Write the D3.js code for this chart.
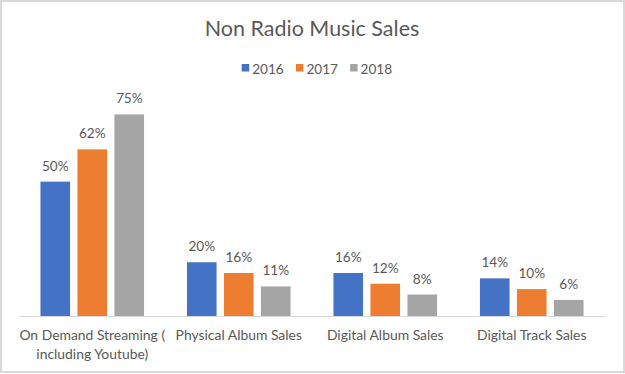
<!DOCTYPE html>
<html>
<head>
<meta charset="utf-8">
<script src="https://cdn.jsdelivr.net/npm/d3@7"></script>
<style>
  html, body { margin: 0; padding: 0; background: #fff; }
  svg { display: block; }
  text { font-family: Lato, 'Open Sans', sans-serif; fill: #595959; }
</style>
</head>
<body>
<script>
const categories = [
  ['On Demand Streaming (', 'including Youtube)'],
  ['Physical Album Sales'],
  ['Digital Album Sales'],
  ['Digital Track Sales'],
]
const years = ['2016', '2017', '2018']
const colors = ['#4472C4', '#ED7D31', '#A5A5A5']
const sales2016 = [0.50, 0.20, 0.16, 0.14]
const sales2017 = [0.62, 0.16, 0.12, 0.10]
const sales2018 = [0.75, 0.11, 0.08, 0.06]

const series = [sales2016, sales2017, sales2018]
const rows = []
categories.forEach((c, i) => {
  years.forEach((y, j) => rows.push({cat: i, year: y, value: series[j][i]}))
})

const width = 625
const height = 374
const margin = {top: 101, right: 20, bottom: 58, left: 19}

const svg = d3.select('body').append('svg')
  .attr('width', width)
  .attr('height', height)
  .attr('viewBox', `0 0 ${width} ${height}`)

// chart frame
svg.append('rect')
  .attr('x', 1).attr('y', 1)
  .attr('width', width - 2).attr('height', height - 3)
  .attr('fill', '#fff')
  .attr('stroke', '#d9d9d9')
  .attr('stroke-width', 2)

svg.append('text')
  .attr('x', 312)
  .attr('y', 36)
  .attr('text-anchor', 'middle')
  .attr('font-size', 21.5)
  .text('Non Radio Music Sales')

const x0 = d3.scaleBand()
  .domain(d3.range(categories.length))
  .range([margin.left, width - margin.right])

const x1 = d3.scaleBand()
  .domain(years)
  .range([0, x0.bandwidth()])
  .paddingInner(0.2)
  .paddingOuter(0.58)

const y = d3.scaleLinear()
  .domain([0, 0.8])
  .range([height - margin.bottom, margin.top])

const z = d3.scaleOrdinal().domain(years).range(colors)

// legend
const legend = svg.append('g')
  .selectAll('g')
  .data(years)
  .join('g')
  .attr('transform', (d, i) => `translate(${241.7 + i * 54.2}, 0)`)

legend.append('rect')
  .attr('y', 64)
  .attr('width', 7.5)
  .attr('height', 7.5)
  .attr('fill', z)

legend.append('text')
  .attr('x', 10.5)
  .attr('y', 73.5)
  .attr('font-size', 13.6)
  .text(d => d)

// bars
const bars = svg.append('g')
  .selectAll('g')
  .data(rows)
  .join('g')

bars.append('rect')
  .attr('x', d => x0(d.cat) + x1(d.year))
  .attr('y', d => y(d.value))
  .attr('width', x1.bandwidth())
  .attr('height', d => y(0) - y(d.value))
  .attr('fill', d => z(d.year))

bars.append('text')
  .attr('x', d => x0(d.cat) + x1(d.year) + x1.bandwidth() / 2)
  .attr('y', d => y(d.value) - 11)
  .attr('text-anchor', 'middle')
  .attr('font-size', 13.6)
  .text(d => d3.format('.0%')(d.value))

// category axis
const axis = svg.append('g')
  .attr('transform', `translate(0, ${y(0)})`)
  .call(d3.axisBottom(x0).tickSize(0).tickFormat(''))

axis.select('.domain').attr('stroke', '#d9d9d9').attr('stroke-width', 1.2)

axis.selectAll('.tick').each(function (i) {
  const t = d3.select(this).append('text')
    .attr('text-anchor', 'middle')
    .attr('font-size', 13.9)
    .attr('fill', '#595959')
  categories[i].forEach((line, k) => {
    t.append('tspan').attr('x', 0).attr('y', 23.5 + k * 19).text(line)
  })
})
</script>
</body>
</html>
